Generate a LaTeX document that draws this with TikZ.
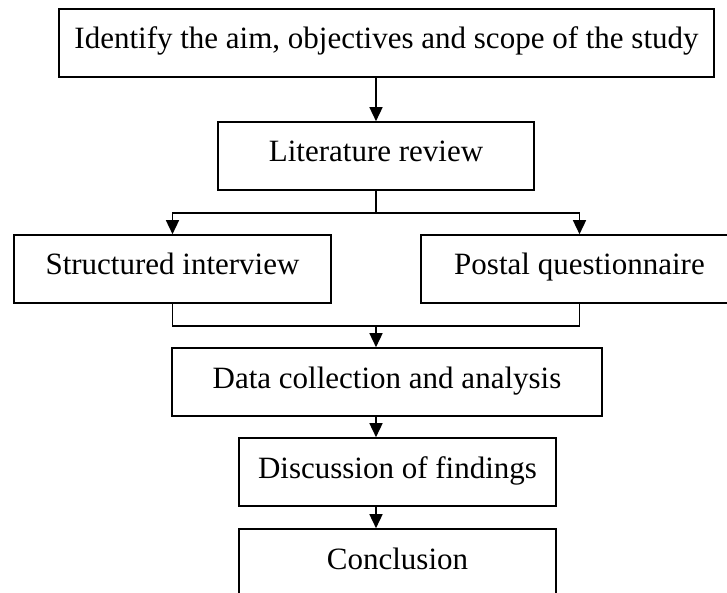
\documentclass[tikz,border=0pt]{standalone}
\usepackage{fontspec}
\setmainfont{Liberation Serif}
\usetikzlibrary{arrows.meta}
\tikzset{>={Triangle[length=14pt,width=13pt]}}
\tikzset{stage/.style={draw,line width=1.6pt,minimum height=68pt,inner sep=0pt,
  text height=21pt,text depth=9pt,font=\fontsize{31}{36}\selectfont}}

\begin{document}
\begin{tikzpicture}[x=1pt,y=-1pt,line width=1.5pt]
      \useasboundingbox (0,0) rectangle (727,593);
      \clip (0,0) rectangle (727,593);
      \node[stage,minimum width=655pt] (aim) at (386.5,43) {Identify the aim, objectives and scope of the study};
      \node[stage,minimum width=316pt] (lit) at (376,156) {Literature review};
      \node[stage,minimum width=317pt] (si) at (172.5,269) {Structured interview};
      \node[stage,minimum width=317pt] (pq) at (579.5,269) {Postal questionnaire};
      \node[stage,minimum width=430pt] (data) at (387,382) {Data collection and analysis};
      \node[stage,minimum width=317pt] (disc) at (397.5,472) {Discussion of findings};
      \node[stage,minimum width=317pt] (concl) at (397.5,563) {Conclusion};
      \coordinate (split) at (376,213);
      \coordinate (join) at (376,326);
      \draw[->] (lit.north |- aim.south) -- (lit.north);
      \draw (lit.south) -- (split);
      \draw[->] (split) -| (si.north);
      \draw[->] (split) -| (pq.north);
      \draw (si.south) |- (join) -| (pq.south);
      \draw[->] (join) -- (join |- data.north);
      \draw[->] (join |- data.south) -- (join |- disc.north);
      \draw[->] (join |- disc.south) -- (join |- concl.north);
\end{tikzpicture}
\end{document}
